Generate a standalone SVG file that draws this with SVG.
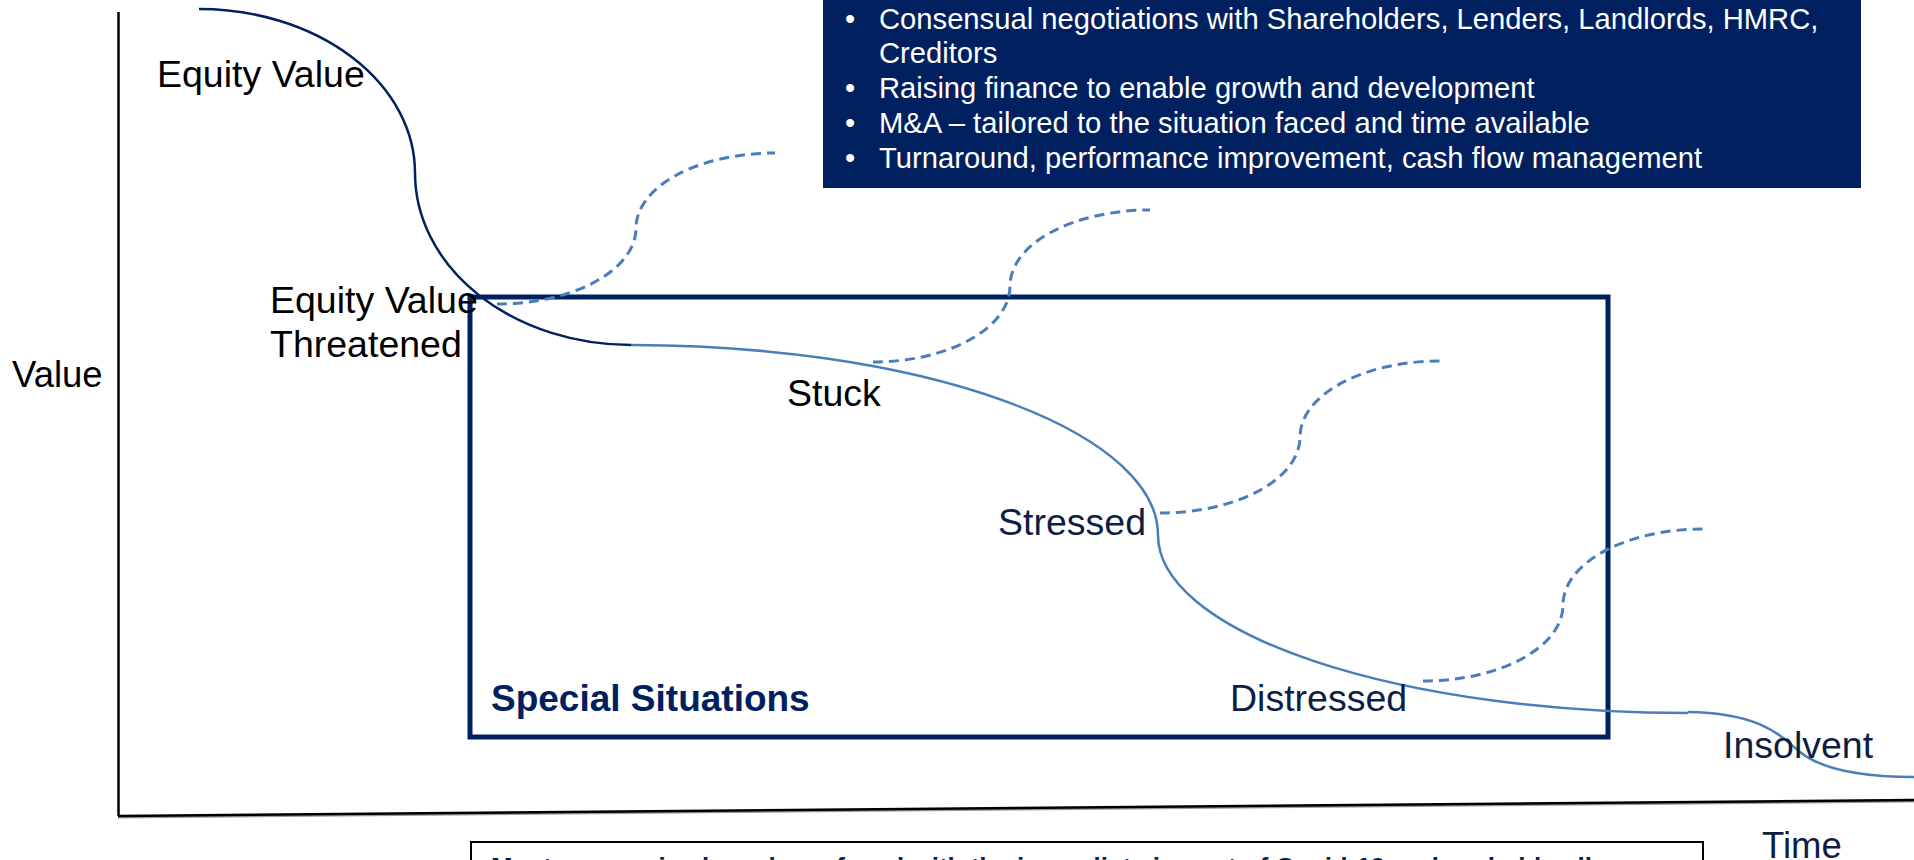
<svg xmlns="http://www.w3.org/2000/svg" width="1914" height="860" viewBox="0 0 1914 860">
  <style>
    .lbl { font-family: "Liberation Sans", Arial, sans-serif; font-size: 37.5px; fill: #000; }
    .ax { font-family: "Liberation Sans", Arial, sans-serif; font-size: 36.5px; fill: #000; }
    .navy { fill: #0c1e45; }
    .bullet { font-family: "Liberation Sans", Arial, sans-serif; font-size: 29.2px; fill: #fff; }
    .axis { stroke: #000; fill: none; }
    .curve-dark { stroke: #002060; stroke-width: 2.5; fill: none; }
    .curve-light { stroke: #4a7ebb; stroke-width: 2.5; fill: none; }
    .path-dash { stroke: #4a7ebb; stroke-width: 3; fill: none; stroke-dasharray: 10 6; }
  </style>

  <rect width="1914" height="860" fill="#fff"/>

  <!-- axes -->
  <g id="axes">
    <line class="axis" x1="118.5" y1="12" x2="118.5" y2="816" stroke-width="2.5"/>
    <line x1="118" y1="817.5" x2="1914" y2="801.5" stroke="#999" stroke-width="2"/>
    <line class="axis" x1="118" y1="816" x2="1914" y2="800" stroke-width="2.5"/>
    <text class="ax" x="12" y="387">Value</text>
    <text class="ax navy" x="1762" y="858">Time</text>
  </g>

  <!-- service offering panel -->
  <g id="services">
    <rect x="823" y="-2" width="1038" height="190" fill="#002060"/>
    <text class="bullet" x="845" y="29">•</text>
    <text class="bullet" x="879" y="29">Consensual negotiations with Shareholders, Lenders, Landlords, HMRC,</text>
    <text class="bullet" x="879" y="63">Creditors</text>
    <text class="bullet" x="845" y="98">•</text>
    <text class="bullet" x="879" y="98">Raising finance to enable growth and development</text>
    <text class="bullet" x="845" y="133">•</text>
    <text class="bullet" x="879" y="133">M&amp;A – tailored to the situation faced and time available</text>
    <text class="bullet" x="845" y="168">•</text>
    <text class="bullet" x="879" y="168">Turnaround, performance improvement, cash flow management</text>
  </g>

  <!-- special situations zone -->
  <g id="special-situations">
    <rect x="470" y="297" width="1138" height="440" fill="none" stroke="#002060" stroke-width="5"/>
    <text x="491" y="711" font-family="Liberation Sans, Arial, sans-serif" font-size="37" font-weight="bold" fill="#002060">Special Situations</text>
  </g>

  <!-- value decline curve and recovery paths -->
  <g id="connectors">
    <path class="curve-dark" d="M199,9 A216,164 0 0 1 415,173 A216,172 0 0 0 631,345"/>
    <path class="curve-light" d="M631,345 A527,190 0 0 1 1158,535 A530,178 0 0 0 1688,713"/>
    <path class="curve-light" d="M1688,712 C1760,713 1780,735 1800,752 C1825,772 1870,777 1914,777"/>

    <path class="path-dash" d="M497,304 A139,76 0 0 0 636,228 A139,75 0 0 1 775,153"/>
    <path class="path-dash" d="M873,362 A137,76 0 0 0 1010,286 A140,76 0 0 1 1150,210"/>
    <path class="path-dash" d="M1160,513 A140,76 0 0 0 1300,437 A140,76 0 0 1 1440,361"/>
    <path class="path-dash" d="M1423,681 A140,76 0 0 0 1563,605 A140,76 0 0 1 1703,529"/>
  </g>

  <!-- stage labels -->
  <g id="stage-equity-value"><text class="lbl" x="157" y="87">Equity Value</text></g>
  <g id="stage-threatened">
    <text class="lbl" x="270" y="313">Equity Value</text>
    <text class="lbl" x="270" y="357">Threatened</text>
  </g>
  <g id="stage-stuck"><text class="lbl" x="787" y="406">Stuck</text></g>
  <g id="stage-stressed"><text class="lbl navy" x="998" y="535">Stressed</text></g>
  <g id="stage-distressed"><text class="lbl navy" x="1230" y="711">Distressed</text></g>
  <g id="stage-insolvent"><text class="lbl navy" x="1723" y="758">Insolvent</text></g>

  <!-- commentary box -->
  <g id="commentary">
    <rect x="471" y="842" width="1232" height="40" fill="#fff" stroke="#000" stroke-width="2"/>
    <text x="491" y="876" font-family="Liberation Sans, Arial, sans-serif" font-size="26" font-weight="bold" fill="#0c1e45">Most companies have been faced with the immediate impact of Covid-19 and probably all</text>
  </g>
</svg>
